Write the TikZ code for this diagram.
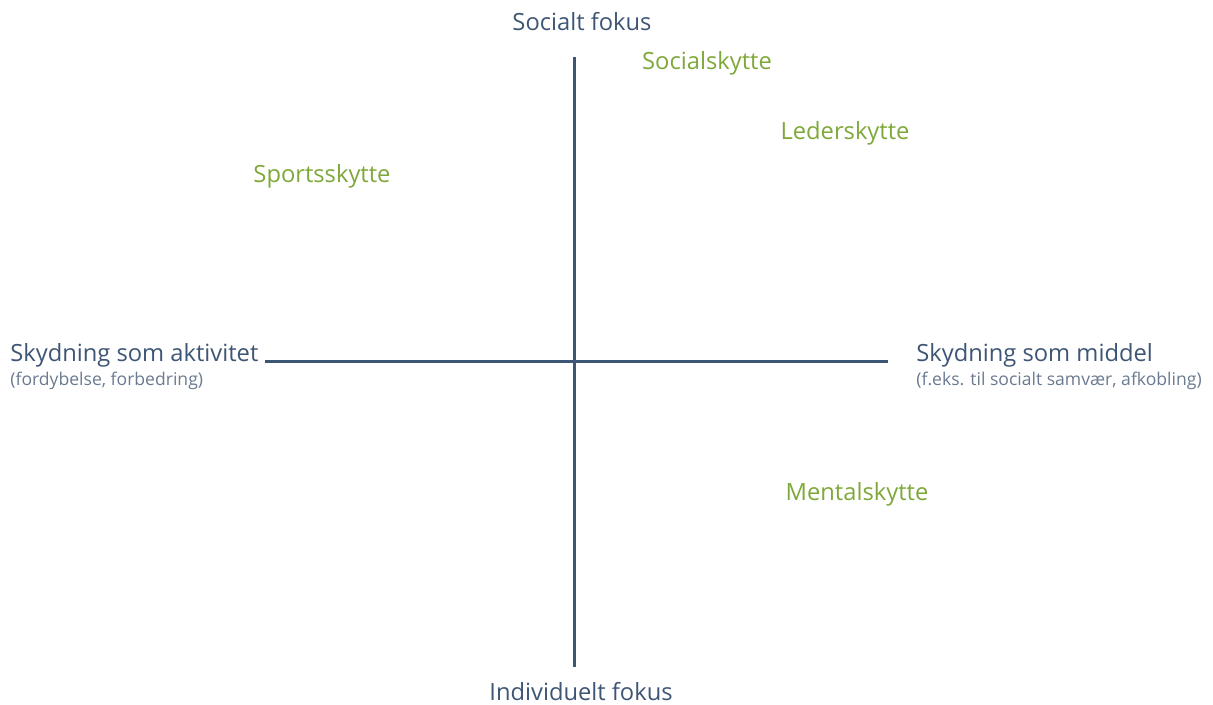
\documentclass[tikz,border=0pt]{standalone}
\usepackage{fontspec}
\setmainfont{Open Sans}
\usepackage{xcolor}
\usepackage{tikz}

\definecolor{axisblue}{HTML}{3E5675}
\definecolor{subgray}{HTML}{6A7A90}
\definecolor{typegreen}{HTML}{7FA83A}

\begin{document}
\begin{tikzpicture}[
      x=0.02cm, y=-0.02cm,
      axis/.style={draw=axisblue, line width=1.7pt},
      pole/.style={text=axisblue, font=\fontsize{13.5}{15}\selectfont, inner sep=0pt},
      polenote/.style={text=subgray, font=\fontsize{10}{12}\selectfont, inner sep=0pt},
      shooter/.style={text=typegreen, font=\fontsize{13.5}{15}\selectfont, inner sep=0pt}
    ]
      \useasboundingbox (0,0) rectangle (1213,704);

      \node[pole] (social) at (582,22) {Socialt fokus};
      \node[pole] (indiv) at (581,692) {Individuelt fokus};
      \node[pole, anchor=west] (aktiv) at (10,355) {Skydning som aktivitet};
      \node[polenote, anchor=west] (aktivnote) at (10,381) {(fordybelse, forbedring)};
      \node[pole, anchor=west] (middel) at (916,355) {Skydning som middel};
      \node[polenote, anchor=west] (middelnote) at (916,381) {(f.eks. til socialt samvær, afkobling)};

      \coordinate (top) at (574,57);
      \coordinate (bottom) at (574,667);
      \coordinate (left) at (265,361);
      \coordinate (right) at (888,361);

      \draw[axis] (top) -- (bottom);
      \draw[axis] (left) -- (right);

      \node[shooter] (socialsk) at (707,63) {Socialskytte};
      \node[shooter] (ledersk) at (845,133) {Lederskytte};
      \node[shooter] (sportssk) at (322,176) {Sportsskytte};
      \node[shooter] (mentalsk) at (857,494) {Mentalskytte};
    \end{tikzpicture}
\end{document}
